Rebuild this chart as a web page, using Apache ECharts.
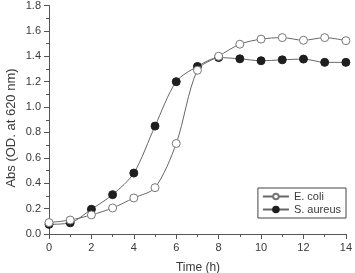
<!DOCTYPE html>
<html>
<head>
<meta charset="utf-8">
<script src="https://cdn.jsdelivr.net/npm/echarts@6/dist/echarts.min.js"></script>
<style>
  html, body { margin: 0; padding: 0; background: #fff; }
  #chart { width: 355px; height: 273px; }
</style>
</head>
<body>
<div id="chart"></div>
<script>
const hours = [0, 1, 2, 3, 4, 5, 6, 7, 8, 9, 10, 11, 12, 13, 14]
const eColi = [0.09, 0.11, 0.15, 0.205, 0.284, 0.365, 0.713, 1.29, 1.40, 1.495, 1.535, 1.547, 1.526, 1.547, 1.523]
const sAureus = [0.076, 0.088, 0.195, 0.31, 0.48, 0.85, 1.20, 1.32, 1.39, 1.38, 1.365, 1.372, 1.378, 1.352, 1.352]

const pair = (ys) => hours.map((h, i) => [h, ys[i]])
const txt = '#3a3a3a'
const ax = '#555'

const myChart = echarts.init(document.getElementById('chart'), null, { renderer: 'canvas' })
myChart.setOption({
  animation: false,
  grid: { left: 49, right: 6, top: 4, bottom: 39, containLabel: false },
  legend: {
    orient: 'vertical',
    right: 9,
    top: 188,
    itemWidth: 26,
    itemHeight: 7,
    itemGap: 2,
    padding: [3, 5, 3, 4],
    borderColor: '#444',
    borderWidth: 1,
    textStyle: { color: txt, fontSize: 11, fontFamily: 'Liberation Sans' },
    data: ['E. coli', 'S. aureus']
  },
  xAxis: {
    type: 'value',
    min: 0,
    max: 14,
    interval: 2,
    axisLine: { lineStyle: { color: ax, width: 1 } },
    axisTick: { show: true, length: 5, lineStyle: { color: ax } },
    minorTick: { show: true, splitNumber: 2, length: 3, lineStyle: { color: ax } },
    splitLine: { show: false },
    axisLabel: { color: txt, fontSize: 11, fontFamily: 'Liberation Sans', margin: 8 }
  },
  yAxis: {
    type: 'value',
    min: 0,
    max: 1.8,
    interval: 0.2,
    axisLine: { show: true, lineStyle: { color: ax, width: 1 } },
    axisTick: { show: true, length: 5, lineStyle: { color: ax } },
    minorTick: { show: true, splitNumber: 2, length: 3, lineStyle: { color: ax } },
    splitLine: { show: false },
    axisLabel: {
      color: txt, fontSize: 11, fontFamily: 'Liberation Sans', margin: 8,
      formatter: (v) => v.toFixed(1)
    }
  },
  graphic: [
    {
      type: 'text',
      x: 11, y: 128,
      rotation: Math.PI / 2,
      style: {
        text: 'Abs (OD. at 620 nm)',
        fill: txt,
        font: '13px "Liberation Sans"',
        align: 'center',
        verticalAlign: 'middle'
      }
    },
    {
      type: 'text',
      x: 198, y: 268,
      style: {
        text: 'Time (h)',
        fill: txt,
        font: '12px "Liberation Sans"',
        align: 'center',
        verticalAlign: 'middle'
      }
    }
  ],
  series: [
    {
      name: 'E. coli',
      type: 'line',
      smooth: 0.3,
      data: pair(eColi),
      symbol: 'circle',
      symbolSize: 8,
      lineStyle: { color: '#666', width: 1 },
      itemStyle: { color: '#fff', borderColor: '#777', borderWidth: 1 },
      z: 3
    },
    {
      name: 'S. aureus',
      type: 'line',
      smooth: 0.3,
      data: pair(sAureus),
      symbol: 'circle',
      symbolSize: 8,
      lineStyle: { color: '#666', width: 1 },
      itemStyle: { color: '#1e1e1e', borderColor: '#1e1e1e', borderWidth: 1 },
      z: 2
    }
  ]
})
</script>
</body>
</html>
